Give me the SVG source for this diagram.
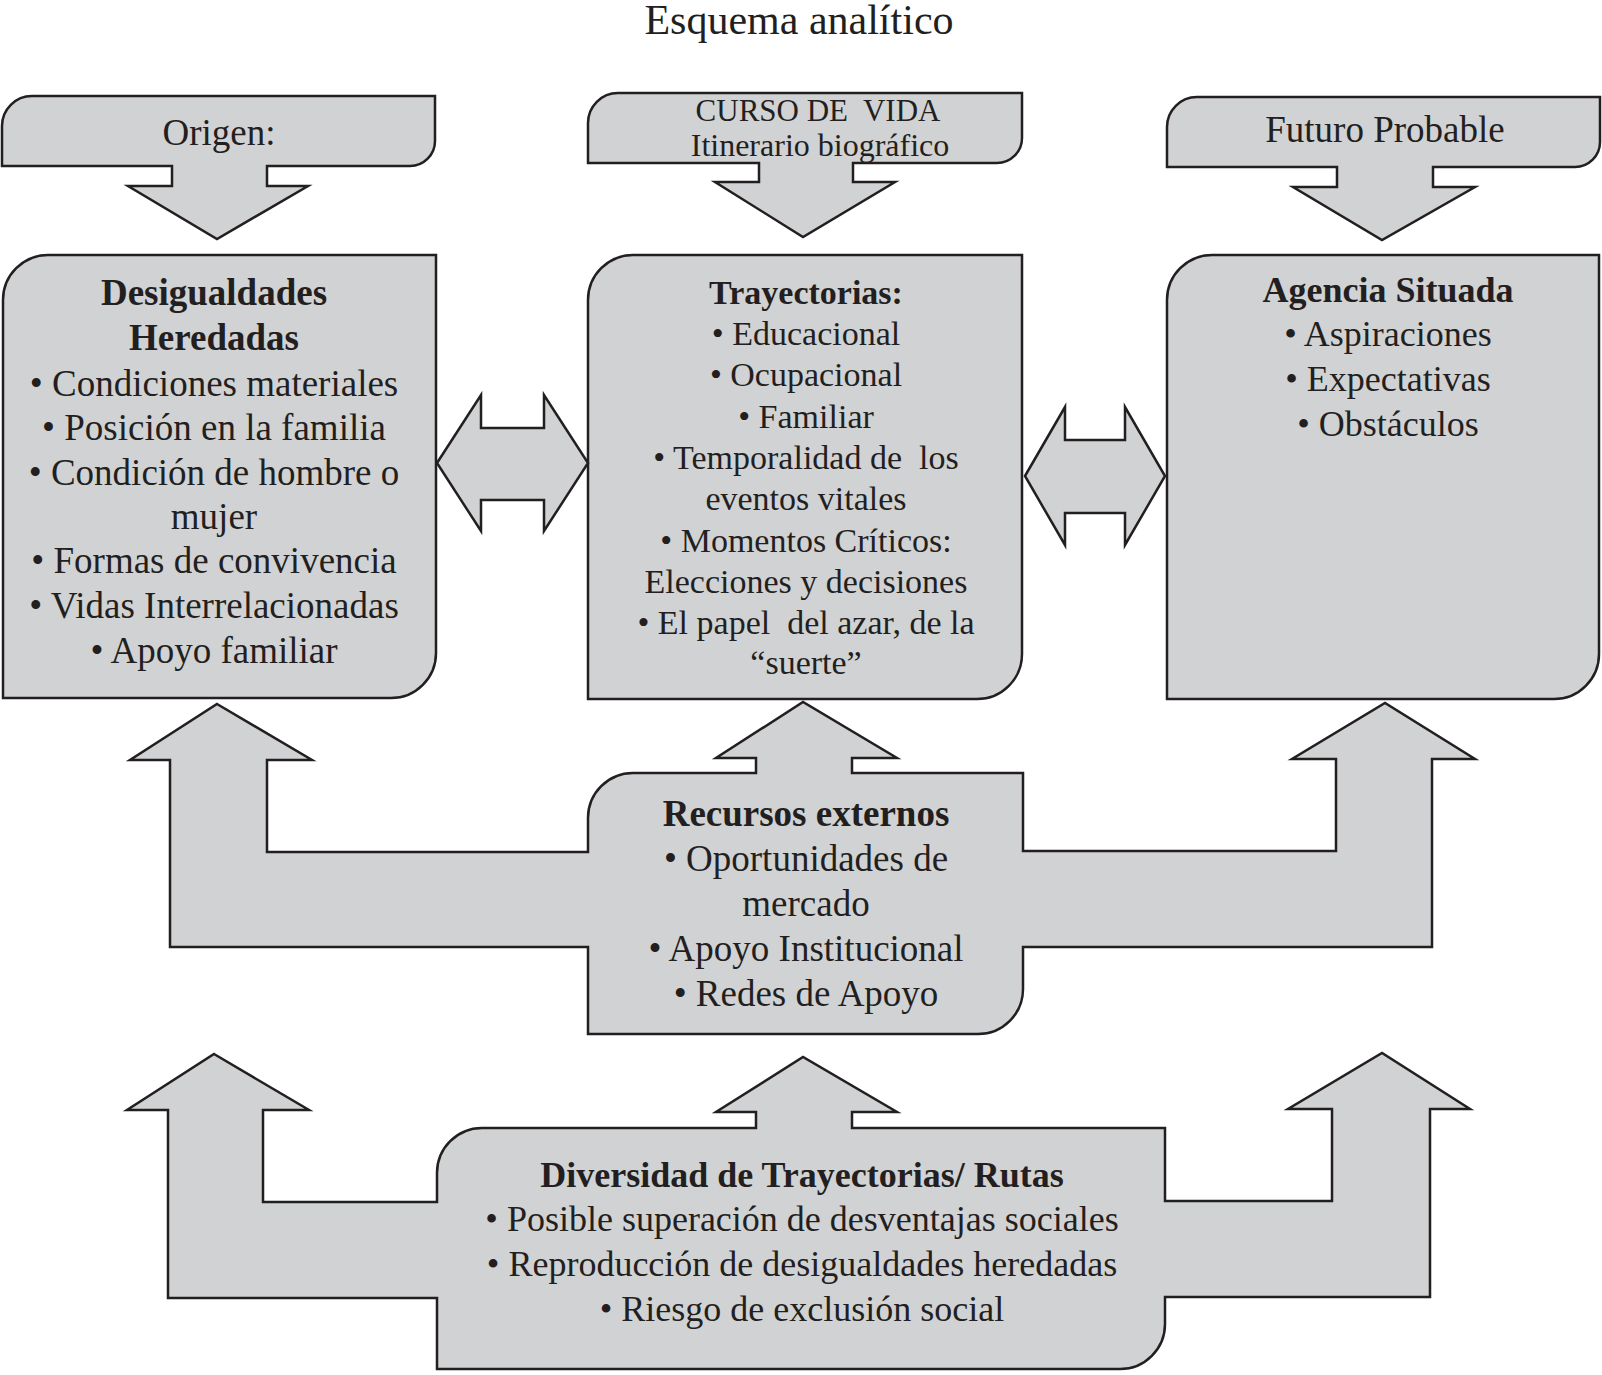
<svg xmlns="http://www.w3.org/2000/svg" width="1602" height="1375" viewBox="0 0 1602 1375">
<style>
.shape{fill:#d1d2d4;stroke:#231f20;stroke-width:2.5;stroke-linejoin:miter}
text{font-family:"Liberation Serif","Times New Roman",serif;fill:#231f20;text-anchor:middle;white-space:pre}
.b{font-weight:bold}
.t{font-size:37px}
.m{font-size:34px}
.h{font-size:37px}
</style>
<rect width="1602" height="1375" fill="#ffffff"/>
<text x="799" y="34" style="font-size:42px">Esquema analítico</text>

<g id="origen">
<path class="shape" d="M2,166 V126 A30,30 0 0 1 32,96 H435 V141 A25,25 0 0 1 410,166 H267 V186 H308 L217,239 L128,186 H172 V166 Z"/>
<text class="h" x="219" y="145">Origen:</text>
</g>
<g id="curso">
<path class="shape" d="M588,163 V123 A30,30 0 0 1 618,93 H1022 V138 A25,25 0 0 1 997,163 H853 V182 H895 L803,237 L715,182 H759 V163 Z"/>
<text x="818" y="121" style="font-size:31px" xml:space="preserve">CURSO DE  VIDA</text>
<text x="820" y="156" style="font-size:32px">Itinerario biográfico</text>
</g>
<g id="futuro">
<path class="shape" d="M1167,167 V127 A30,30 0 0 1 1197,97 H1600 V142 A25,25 0 0 1 1575,167 H1433 V187 H1475 L1382,240 L1293,187 H1337 V167 Z"/>
<text class="h" x="1385" y="142">Futuro Probable</text>
</g>

<g id="desigualdades">
<path class="shape" d="M3,698 V300 A45,45 0 0 1 48,255 H436 V653 A45,45 0 0 1 391,698 Z"/>
<text class="t b" x="214" y="305">Desigualdades</text>
<text class="t b" x="214" y="350">Heredadas</text>
<text class="t" x="214" y="396">• Condiciones materiales</text>
<text class="t" x="214" y="440">• Posición en la familia</text>
<text class="t" x="214" y="485">• Condición de hombre o</text>
<text class="t" x="214" y="529">mujer</text>
<text class="t" x="214" y="573">• Formas de convivencia</text>
<text class="t" x="214" y="618">• Vidas Interrelacionadas</text>
<text class="t" x="214" y="663">• Apoyo familiar</text>
</g>

<g id="trayectorias">
<path class="shape" d="M588,699 V300 A45,45 0 0 1 633,255 H1022 V654 A45,45 0 0 1 977,699 Z"/>
<text class="m b" x="806" y="304">Trayectorias:</text>
<text class="m" x="806" y="345">• Educacional</text>
<text class="m" x="806" y="386">• Ocupacional</text>
<text class="m" x="806" y="428">• Familiar</text>
<text class="m" x="806" y="469" xml:space="preserve">• Temporalidad de  los</text>
<text class="m" x="806" y="510">eventos vitales</text>
<text class="m" x="806" y="552">• Momentos Críticos:</text>
<text class="m" x="806" y="593">Elecciones y decisiones</text>
<text class="m" x="806" y="634" xml:space="preserve">• El papel  del azar, de la</text>
<text class="m" x="806" y="674">“suerte”</text>
</g>

<g id="agencia">
<path class="shape" d="M1167,699 V300 A45,45 0 0 1 1212,255 H1599 V654 A45,45 0 0 1 1554,699 Z"/>
<text class="b" x="1388" y="302" style="font-size:36px">Agencia Situada</text>
<text x="1388" y="346" style="font-size:36px">• Aspiraciones</text>
<text x="1388" y="391" style="font-size:36px">• Expectativas</text>
<text x="1388" y="436" style="font-size:36px">• Obstáculos</text>
</g>

<g id="connectors">
<path class="shape" d="M437,463 L481,395 V428 H544 V395 L588,463 L544,531 V500 H481 V531 Z"/>
<path class="shape" d="M1025,476 L1065,407 V440 H1125 V407 L1165,476 L1125,545 V513 H1065 V545 Z"/>
</g>

<g id="recursos">
<path class="shape" d="M217,704 L312,760 H267 V852 H588 V818 A45,45 0 0 1 633,773 H756 V758 H716 L803,702 L897,758 H852 V773 H1023 V851 H1336 V759 H1292 L1385,703 L1475,759 H1432 V947 H1023 V989 A45,45 0 0 1 978,1034 H588 V947 H170 V760 H130 Z"/>
<text class="t b" x="806" y="826">Recursos externos</text>
<text class="t" x="806" y="871">• Oportunidades de</text>
<text class="t" x="806" y="916">mercado</text>
<text class="t" x="806" y="961">• Apoyo Institucional</text>
<text class="t" x="806" y="1006">• Redes de Apoyo</text>
</g>

<g id="diversidad">
<path class="shape" d="M214,1054 L309,1110 H263 V1202 H437 V1173 A45,45 0 0 1 482,1128 H756 V1112 H716 L803,1057 L897,1112 H852 V1128 H1165 V1201 H1332 V1109 H1288 L1382,1053 L1470,1109 H1430 V1297 H1165 V1324 A45,45 0 0 1 1120,1369 H437 V1298 H168 V1110 H127 Z"/>
<text class="b" x="802" y="1187" style="font-size:36px">Diversidad de Trayectorias/ Rutas</text>
<text x="802" y="1231" style="font-size:36px">• Posible superación de desventajas sociales</text>
<text x="802" y="1276" style="font-size:36px">• Reproducción de desigualdades heredadas</text>
<text x="802" y="1321" style="font-size:36px">• Riesgo de exclusión social</text>
</g>
</svg>
